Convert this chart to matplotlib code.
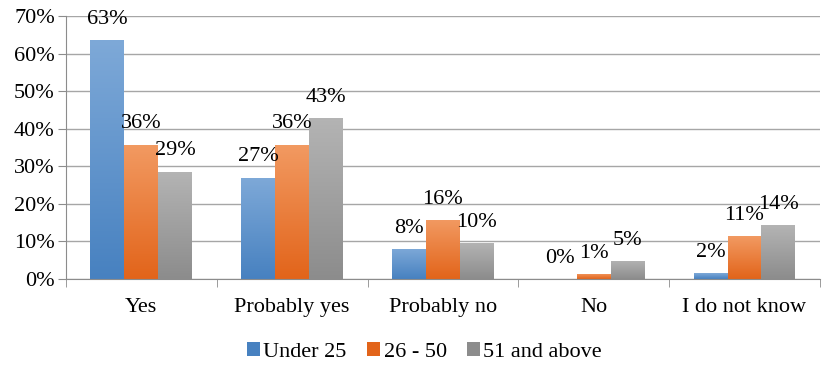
import numpy as np
import matplotlib; matplotlib.use("Agg")
import matplotlib.pyplot as plt
from matplotlib.colors import LinearSegmentedColormap
from matplotlib.patches import Patch

categories = ["Yes", "Probably yes", "Probably no", "No", "I do not know"]
series = ["Under 25", "26 - 50", "51 and above"]
under25 = [63.5, 27.0, 8.0, 0.0, 1.5]
mid = [35.8, 35.8, 15.8, 1.4, 11.4]
above51 = [28.6, 42.9, 9.6, 4.8, 14.3]
labels_under25 = ["63%", "27%", "8%", "0%", "2%"]
labels_mid = ["36%", "36%", "16%", "1%", "11%"]
labels_above51 = ["29%", "43%", "10%", "5%", "14%"]

# (top colour, bottom colour) gradients, Excel-style
grads = [("#7ea9d8", "#4781c0"), ("#f29a62", "#e2641a"), ("#b4b4b4", "#8c8c8c")]

plt.rcParams["font.family"] = ["Liberation Serif", "DejaVu Serif"]
fig = plt.figure(figsize=(8.24, 3.65), dpi=100)
ax = fig.add_axes([0.080, 0.2356, 0.915, 0.7204])

x = np.arange(len(categories))
w = 0.225
grad = np.linspace(0, 1, 256).reshape(-1, 1)
for i, (vals, labs) in enumerate(zip([under25, mid, above51],
                                     [labels_under25, labels_mid, labels_above51])):
    cmap = LinearSegmentedColormap.from_list(f"g{i}", [grads[i][1], grads[i][0]])
    bars = ax.bar(x + (i - 1) * w, vals, w, color="none", edgecolor="none", zorder=2)
    for b, v, lab in zip(bars, vals, labs):
        if v > 0:
            x0, y0 = b.get_x(), b.get_y()
            im = ax.imshow(grad, cmap=cmap, origin="lower", aspect="auto",
                           extent=(x0, x0 + b.get_width(), y0, y0 + b.get_height()),
                           zorder=2)
            im.set_clip_path(b)
        ax.annotate(lab, (b.get_x() + b.get_width() / 2, v), xytext=(0, 8),
                    textcoords="offset points", ha="center", va="bottom",
                    fontsize=16, zorder=3)

ax.set_xlim(-0.5, len(categories) - 0.5)
ax.set_ylim(0, 70)
ax.set_yticks(np.arange(0, 71, 10))
ax.set_yticklabels([f"{t}%" for t in range(0, 71, 10)], fontsize=16)
ax.set_xticks(x)
ax.set_xticklabels(categories, fontsize=16)
ax.set_xticks(np.arange(-0.5, len(categories)), minor=True)
ax.tick_params(axis="x", which="major", length=0, pad=14)
ax.tick_params(axis="x", which="minor", length=6, color="#8c8c8c")
ax.tick_params(axis="y", length=6, color="#8c8c8c", pad=2)
ax.grid(axis="y", color="#a6a6a6", linewidth=1, zorder=0)
ax.set_axisbelow(True)
for s in ["top", "right"]:
    ax.spines[s].set_visible(False)
ax.spines["left"].set_color("#8c8c8c")
ax.spines["bottom"].set_color("#8c8c8c")

handles = [Patch(facecolor=g[1], edgecolor="none") for g in grads]
fig.legend(handles, series, loc="center", bbox_to_anchor=(0.515, 0.035), ncol=3,
           frameon=False, fontsize=16, handlelength=0.6, handleheight=0.6,
           handletextpad=0.15, columnspacing=0.9)

fig.savefig("out.png", dpi=100)
